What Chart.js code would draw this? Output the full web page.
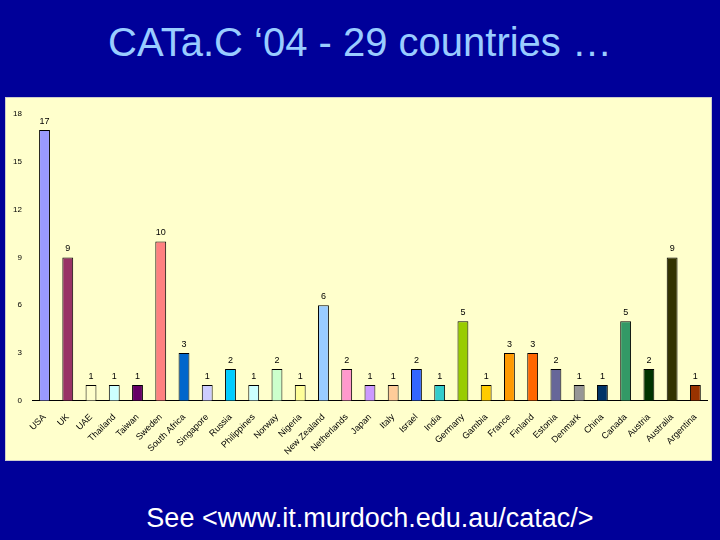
<!DOCTYPE html>
<html>
<head>
<meta charset="utf-8">
<script src="https://cdn.jsdelivr.net/npm/chart.js@4"></script>
<style>
  body { margin: 0; width: 720px; height: 540px; background: #000099; overflow: hidden; font-family: "Liberation Sans", Arial, sans-serif; }
  #title { position: absolute; left: 0; top: 20px; width: 720px; text-align: center; color: #99CCFF; font-size: 40px; }
  #panel { position: absolute; left: 5px; top: 97px; width: 705px; height: 362px; background: #FFFFCC; border: 1px solid #ccc; }
  #foot { position: absolute; left: 10px; top: 503px; width: 720px; text-align: center; color: #fff; font-size: 27px; }
</style>
</head>
<body>
<div id="title">CATa.C ‘04 - 29 countries …</div>
<div id="panel"><canvas id="myChart" width="705" height="362"></canvas></div>
<div id="foot">See &lt;www.it.murdoch.edu.au/catac/&gt;</div>
<script>
const countries = ['USA', 'UK', 'UAE', 'Thailand', 'Taiwan', 'Sweden', 'South Africa', 'Singapore', 'Russia',
  'Philippines', 'Norway', 'Nigeria', 'New Zealand', 'Netherlands', 'Japan', 'Italy', 'Israel', 'India',
  'Germany', 'Gambia', 'France', 'Finland', 'Estonia', 'Denmark', 'China', 'Canada', 'Austria', 'Australia', 'Argentina'];
const delegates = [17, 9, 1, 1, 1, 10, 3, 1, 2, 1, 2, 1, 6, 2, 1, 1, 2, 1, 5, 1, 3, 3, 2, 1, 1, 5, 2, 9, 1];
const yTicks = [0, 3, 6, 9, 12, 15, 18];
const barColors = ['#9999FF', '#993366', '#FFFFCC', '#CCFFFF', '#660066', '#FF8080', '#0066CC', '#CCCCFF', '#00CCFF',
  '#CCFFFF', '#CCFFCC', '#FFFF99', '#99CCFF', '#FF99CC', '#CC99FF', '#FFCC99', '#3366FF', '#33CCCC',
  '#99CC00', '#FFCC00', '#FF9900', '#FF6600', '#666699', '#969696', '#003366', '#339966', '#003300', '#333300', '#993300'];

// numbers above the bars
const valueLabels = {
  id: 'valueLabels',
  afterDatasetsDraw(chart) {
    const ctx = chart.ctx;
    const meta = chart.getDatasetMeta(0);
    ctx.save();
    ctx.font = '9px "Liberation Sans", Arial';
    ctx.fillStyle = '#000';
    ctx.textAlign = 'center';
    ctx.textBaseline = 'bottom';
    meta.data.forEach((bar, i) => {
      ctx.fillText(delegates[i], bar.x, bar.y - 4);
    });
    ctx.restore();
  }
};

new Chart(document.getElementById('myChart'), {
  type: 'bar',
  data: {
    labels: countries,
    datasets: [{
      data: delegates,
      backgroundColor: barColors,
      borderColor: '#000',
      borderWidth: 1,
      borderSkipped: 'bottom',
      categoryPercentage: 0.85,
      barPercentage: 0.55
    }]
  },
  options: {
    responsive: false,
    animation: false,
    layout: { padding: { left: 4, right: 4, top: 16, bottom: 0 } },
    plugins: { legend: { display: false }, tooltip: { enabled: false } },
    scales: {
      x: {
        grid: { display: false, offset: true, drawTicks: true },
        border: { color: '#000' },
        ticks: { color: '#000', font: { size: 9 }, maxRotation: 45, minRotation: 45, autoSkip: false }
      },
      y: {
        min: 0, max: 18,
        afterBuildTicks(axis) { axis.ticks = yTicks.map(v => ({ value: v })); },
        grid: { display: false },
        border: { display: false },
        ticks: { color: '#000', font: { size: 8 } }
      }
    }
  },
  plugins: [valueLabels]
});
</script>
</body>
</html>
